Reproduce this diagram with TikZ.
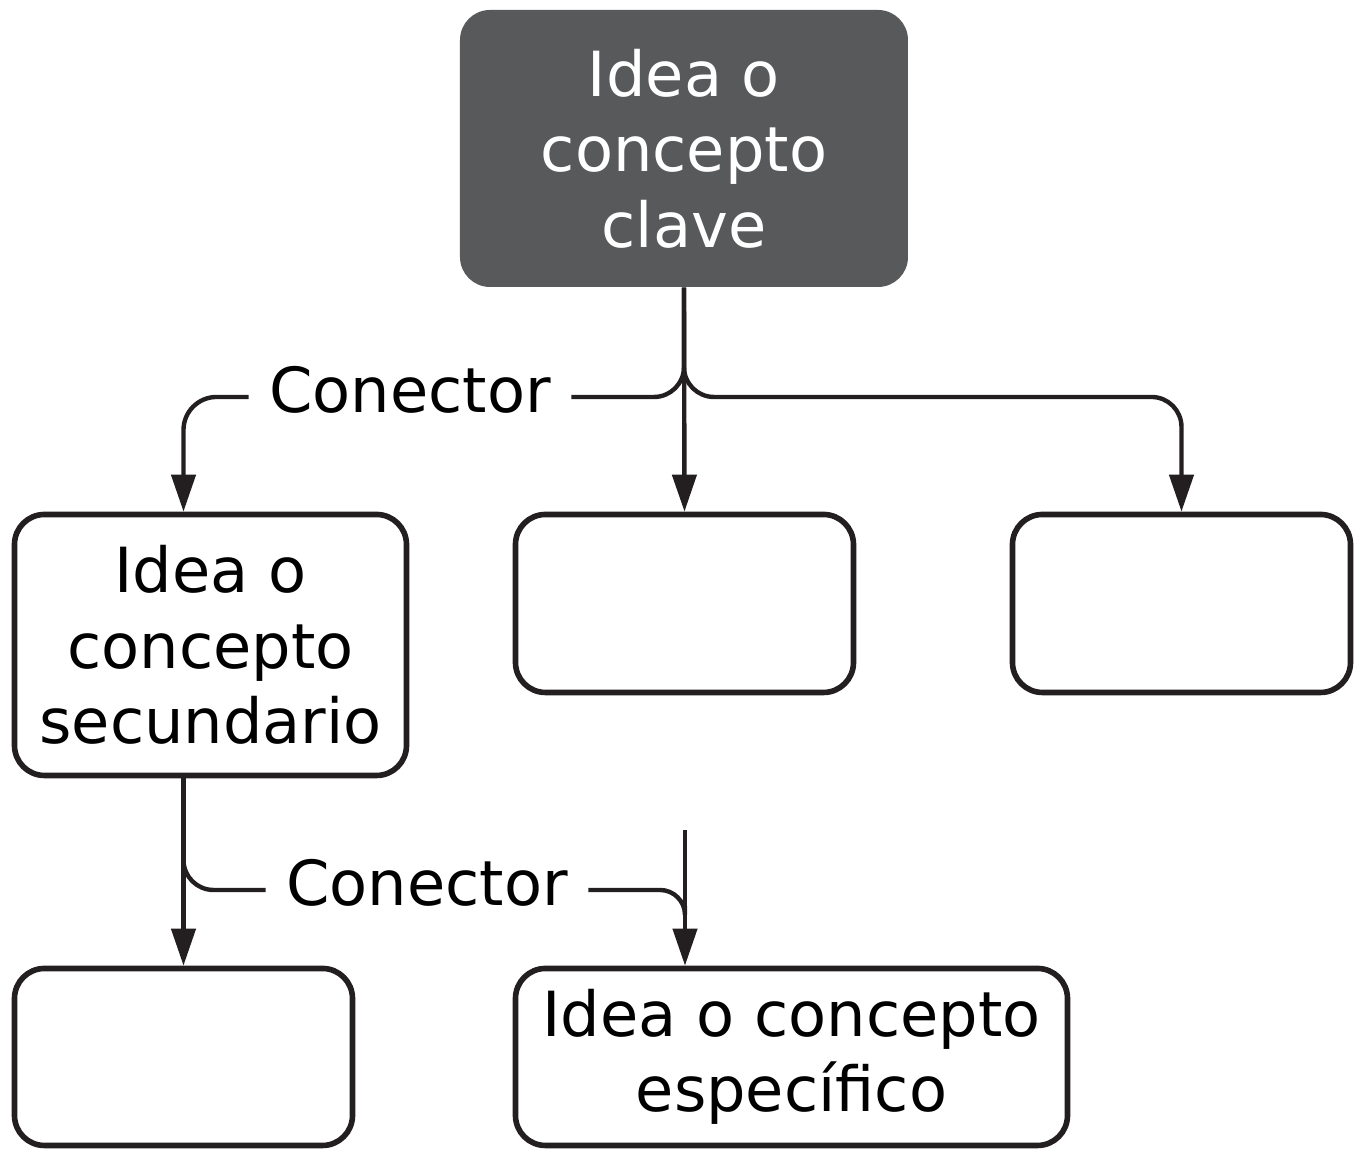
\documentclass[tikz,border=0pt]{standalone}
\usepackage{fontspec}
\setmainfont{DejaVu Sans}
\usetikzlibrary{arrows.meta}
\definecolor{boxgray}{HTML}{58595B}
\definecolor{ink}{HTML}{231F20}

\begin{document}
\begin{tikzpicture}[
	every node/.style={font=\fontsize{17.7}{21.5}\selectfont,align=center,inner sep=0},
	concept/.style={draw=ink,line width=1.6pt,rounded corners=0.3cm},
	conlabel/.style={inner xsep=0.2cm,text height=0.47cm,text depth=0.15cm},
	link/.style={draw=ink,line width=1.25pt,rounded corners=0.3cm},
	arr/.style={link,-{Triangle[length=0.37cm,width=0.24cm]}}
]
	\useasboundingbox (0,0) rectangle (13.61,11.5);
	\node[fill=boxgray,rounded corners=0.3cm,text=white,minimum width=4.48cm,minimum height=2.77cm] (key) at (6.84,10.015) {Idea o\\concepto\\clave};
	\node[concept,minimum width=3.92cm,minimum height=2.61cm] (sec) at (2.105,5.05) {Idea o\\concepto\\secundario};
	\node[concept,minimum width=3.38cm,minimum height=1.78cm] (m2) at (6.845,5.465) {};
	\node[concept,minimum width=3.38cm,minimum height=1.78cm] (m3) at (11.815,5.465) {};
	\node[concept,minimum width=3.38cm,minimum height=1.77cm] (b1) at (1.835,0.93) {};
	\node[concept,minimum width=5.52cm,minimum height=1.77cm] (spec) at (7.915,0.93) {Idea o concepto\\espec\'ifico};
	\node[conlabel] (c1) at (4.10,7.53) {Conector};
	\node[conlabel] (c2) at (4.27,2.60) {Conector};
	\coordinate (in1) at (b1.north |- sec.north);
	\coordinate (out1) at (b1.north |- sec.south);
	\coordinate (top5) at (6.85,3.20);
	\coordinate (in5) at (top5 |- spec.north);
	% from the key idea
	\draw[arr] (key.south) -- (m2.north);
	\draw[link] (key.south) |- (c1.east);
	\draw[arr,rounded corners=0.33cm] (c1.west) -| (in1);
	\draw[arr] (key.south) |- (m3.north |- c1.east) -- (m3.north);
	% from the secondary idea
	\draw[arr] (out1) -- (b1.north);
	\draw[link] (out1) |- (c2.west);
	\draw[arr] (top5) -- (in5);
	\draw[link,rounded corners=0.25cm] (c2.east) -| ([yshift=0.6cm]in5);
\end{tikzpicture}
\end{document}
